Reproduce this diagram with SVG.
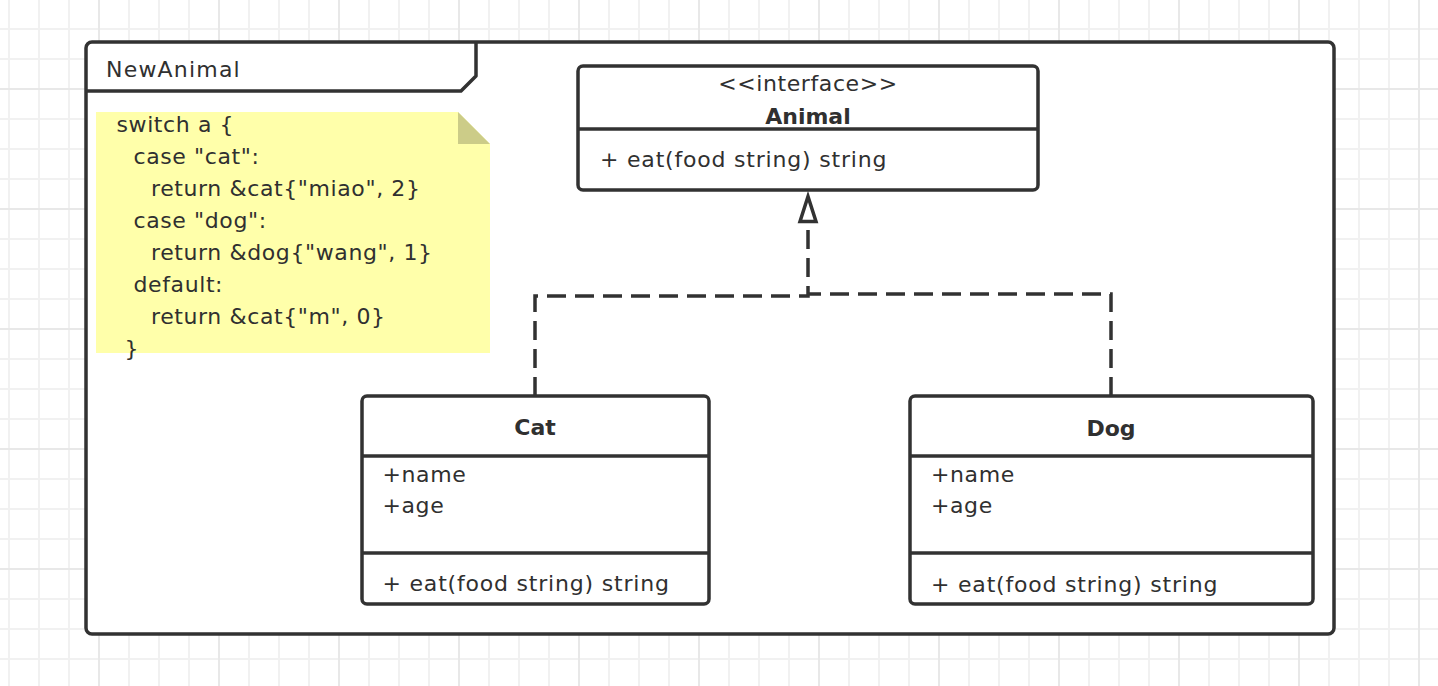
<svg xmlns="http://www.w3.org/2000/svg" width="1438" height="686" viewBox="0 0 1438 686">
  <style>
    text { font-family: "DejaVu Sans", "Noto Sans", sans-serif; font-size: 22px; fill: #303030; }
    .t { letter-spacing: 0.6px; }
    .n { letter-spacing: 1.2px; }
    .m { letter-spacing: 0.8px; }
    .b { font-weight: bold; text-anchor: middle; }
    .c { text-anchor: middle; }
    .box { fill: #ffffff; stroke: #323232; stroke-width: 3.5; }
    .div { stroke: #323232; stroke-width: 3.5; fill: none; }
    .dash { fill: none; stroke: #323232; stroke-width: 3.5; stroke-dasharray: 19 9; }
  </style>
  <defs>
    <pattern id="minor" patternUnits="userSpaceOnUse" x="8" y="28" width="30" height="30">
      <rect x="0" y="0" width="2" height="30" fill="#f1f1f1"/>
      <rect x="0" y="0" width="30" height="2" fill="#f1f1f1"/>
    </pattern>
    <pattern id="major" patternUnits="userSpaceOnUse" x="98" y="88" width="120" height="120">
      <rect x="0" y="0" width="2" height="120" fill="#e8e8e8"/>
      <rect x="0" y="0" width="120" height="2" fill="#e8e8e8"/>
    </pattern>
    <marker id="realize" markerUnits="userSpaceOnUse" viewBox="-4 0 38 24" markerWidth="38" markerHeight="24" refX="0" refY="12" orient="auto" overflow="visible">
      <path d="M0,4 L25,12 L0,20 Z" fill="#ffffff" stroke="#323232" stroke-width="3.5" stroke-dasharray="none"/>
    </marker>
  </defs>

  <rect x="0" y="0" width="1438" height="686" fill="#ffffff"/>
  <rect x="0" y="0" width="1438" height="686" fill="url(#minor)"/>
  <rect x="0" y="0" width="1438" height="686" fill="url(#major)"/>

  <g id="frame-NewAnimal">
    <rect class="box" x="86" y="42" width="1248" height="592" rx="6"/>
    <path class="div" d="M87,91 H461 L476,76 V43" stroke-linejoin="round"/>
    <text class="n" x="106" y="77">NewAnimal</text>
  </g>

  <g id="note">
    <path d="M96,112 H458 L490,144 V353 H96 Z" fill="#ffffaa"/>
    <path d="M458,112 V144 H490 Z" fill="#cccc88"/>
    <text class="t">
      <tspan x="116.5" y="131.5">switch a {</tspan>
      <tspan x="133.5" y="163.5">case "cat":</tspan>
      <tspan x="151" y="195.5">return &amp;cat{"miao", 2}</tspan>
      <tspan x="133.5" y="227.5">case "dog":</tspan>
      <tspan x="151" y="259.5">return &amp;dog{"wang", 1}</tspan>
      <tspan x="133.5" y="291.5">default:</tspan>
      <tspan x="151" y="323.5">return &amp;cat{"m", 0}</tspan>
      <tspan x="124.5" y="355.5">}</tspan>
    </text>
  </g>

  <g id="connectors">
    <path class="dash" d="M535,396 V296 H808 V221.5" marker-end="url(#realize)"/>
    <path class="dash" d="M1111,396 V294 H808"/>
  </g>

  <g id="Animal">
    <rect class="box" x="578" y="66" width="460" height="124" rx="5"/>
    <line class="div" x1="578" y1="129" x2="1038" y2="129"/>
    <text class="c t" x="808" y="91">&lt;&lt;interface&gt;&gt;</text>
    <text class="b" x="808" y="123.5">Animal</text>
    <text class="m" x="600" y="167">+ eat(food string) string</text>
  </g>

  <g id="Cat">
    <rect class="box" x="362" y="396" width="347" height="208" rx="5"/>
    <line class="div" x1="362" y1="456" x2="709" y2="456"/>
    <line class="div" x1="362" y1="553" x2="709" y2="553"/>
    <text class="b" x="535" y="435">Cat</text>
    <text class="t" x="382.5" y="481.5">+name</text>
    <text class="t" x="382.5" y="513">+age</text>
    <text class="m" x="382.5" y="591">+ eat(food string) string</text>
  </g>

  <g id="Dog">
    <rect class="box" x="910" y="396" width="403" height="208" rx="5"/>
    <line class="div" x1="910" y1="456" x2="1313" y2="456"/>
    <line class="div" x1="910" y1="553" x2="1313" y2="553"/>
    <text class="b" x="1111" y="435.5">Dog</text>
    <text class="t" x="931" y="481.5">+name</text>
    <text class="t" x="931" y="513">+age</text>
    <text class="m" x="931" y="591.5">+ eat(food string) string</text>
  </g>
</svg>
